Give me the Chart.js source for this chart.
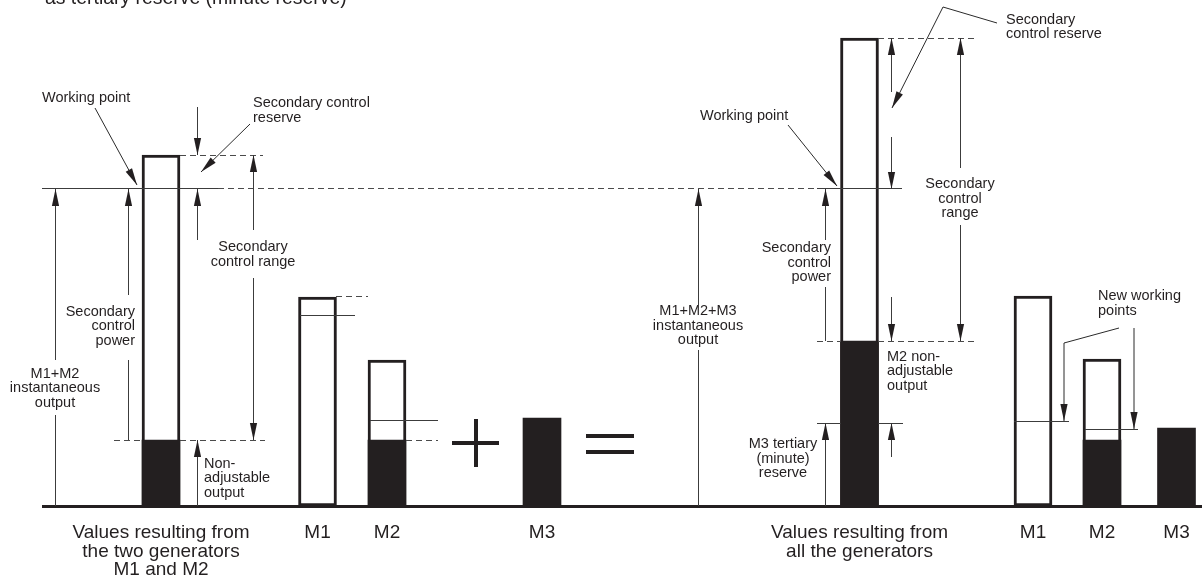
<!DOCTYPE html>
<html>
<head>
<meta charset="utf-8">
<script src="https://cdn.jsdelivr.net/npm/chart.js@4.4.1/dist/chart.umd.min.js"></script>
<style>
html,body{margin:0;padding:0;background:#ffffff;}
#wrap{width:1202px;height:581px;position:relative;}
</style>
</head>
<body>
<div id="wrap"><canvas id="c"></canvas></div>
<script>
// ---------------- data (output units) ----------------
const categories = [
  'Values resulting from\nthe two generators\nM1 and M2',
  'M1', 'M2', 'M3',
  'Values resulting from\nall the generators',
  'M1', 'M2', 'M3'
];
const controlRangeTop     = [351, 209, 146, null, 468, 210, 147, null]; // outlined (adjustable) capacity
const nonAdjustableOutput = [66, null, 66, 88, 165, null, 66, 78];      // black filled part
const workingPoints       = [317, 191, 86, null, 317, 85, 77, null];    // working point levels
const tertiaryReserve     = 83;                                          // M3 tertiary (minute) reserve
const titleText = 'as tertiary reserve (minute reserve)';

// ---------------- layout ----------------
const barCenters = [161, 317.5, 387, 542, 859.5, 1033, 1102, 1176.5]; // x-axis positions of categories
const INK = '#231f20';
const THIN = '#3c3c3c';
const FONT = '"Liberation Sans", Arial, Helvetica, sans-serif';

const outlineData = barCenters.map((x, i) => controlRangeTop[i] == null ? null : {x, y: [0, controlRangeTop[i]]}).filter(Boolean);
const filledData  = barCenters.map((x, i) => nonAdjustableOutput[i] == null ? null : {x, y: [0, nonAdjustableOutput[i]]}).filter(Boolean);

const wpL = workingPoints[0], topL = controlRangeTop[0], naL = nonAdjustableOutput[0];
const topR = controlRangeTop[4], naR = nonAdjustableOutput[4];

// horizontal reference lines [y, x1, x2, style]
const hLines = [
  [0, 42, 1202, 'base'],
  [wpL, 42, 218, 'solid'], [wpL, 218, 817, 'dash'], [wpL, 817, 902, 'solid'],
  [naL, 114, 142, 'dash'], [naL, 180, 265, 'dash'],
  [topL, 180, 263, 'dash'],
  [controlRangeTop[1], 336, 368, 'dash'],
  [workingPoints[1], 300, 355, 'solid'],
  [workingPoints[2], 370, 438, 'solid'],
  [nonAdjustableOutput[2], 406, 438, 'dash'],
  [naR, 817, 841, 'dash'], [naR, 878, 976, 'dash'],
  [topR, 878, 976, 'dash'],
  [tertiaryReserve, 817, 841, 'solid'], [tertiaryReserve, 878, 903, 'solid'],
  [workingPoints[5], 1014, 1069, 'solid'],
  [workingPoints[6], 1085, 1138, 'solid']
];
// vertical dimension arrows [x, yFrom, yTo, headAtEnd]
const vArrows = [
  [55, 0, 91, false], [55, 146, wpL, true],
  [128, naL, 146, false], [128, 211, wpL, true],
  [197, 399, topL, true], [197, 266, wpL, true], [197, 0, naL, true],
  [253, 276, topL, true], [253, 228, naL, true],
  [698, 0, 156, false], [698, 201, wpL, true],
  [826, naR, 219, false], [826, 266, wpL, true], [826, 0, tertiaryReserve, true],
  [891, 414, topR, true], [891, 369, wpL, true], [891, 209, naR, true], [891, 49, tertiaryReserve, true],
  [960, 338, topR, true], [960, 281, naR, true]
];
// leader lines with arrow at the end
const leaders = [
  [[95, 398], [137, 321]],
  [[250, 382], [201, 334]],
  [[788, 381], [837, 320]],
  [[997, 483], [943, 499], [892, 398]],
  [[1119, 178], [1064, 163], [1064, workingPoints[5]]],
  [[1134, 178], [1134, workingPoints[6]]]
];
// thick operator strokes (+ and =)
const operators = [
  [[452, 63], [499, 63]], [[476, 87], [476, 39]],
  [[586, 70], [634, 70]], [[586, 54], [634, 54]]
];
// text notes [text, x, yCenter, align]
const notes = [
  ['Working point', 42, 408, 'left'],
  ['Secondary control\nreserve', 253, 395.5, 'left'],
  ['Secondary\ncontrol range', 253, 251.5, 'center'],
  ['Secondary\ncontrol\npower', 135, 180, 'right'],
  ['M1+M2\ninstantaneous\noutput', 55, 118, 'center'],
  ['Non-\nadjustable\noutput', 204, 28, 'left'],
  ['M1+M2+M3\ninstantaneous\noutput', 698, 180.5, 'center'],
  ['Working point', 700, 390, 'left'],
  ['Secondary\ncontrol reserve', 1006, 479, 'left'],
  ['Secondary\ncontrol\nrange', 960, 307.5, 'center'],
  ['Secondary\ncontrol\npower', 831, 243.5, 'right'],
  ['M2 non-\nadjustable\noutput', 887, 135, 'left'],
  ['M3 tertiary\n(minute)\nreserve', 783, 47.5, 'center'],
  ['New working\npoints', 1098, 202.5, 'left']
];

const diagramPlugin = {
  id: 'diagram',
  afterDatasetsDraw(chart) {
    const ctx = chart.ctx, xs = chart.scales.x, ys = chart.scales.y;
    const X = v => xs.getPixelForValue(v), Y = v => ys.getPixelForValue(v);
    const c1 = p => Math.floor(p) + 0.5;
    ctx.save();
    ctx.lineCap = 'butt';

    // horizontal lines
    hLines.forEach(([y, x1, x2, st]) => {
      ctx.beginPath();
      if (st === 'base') {
        ctx.strokeStyle = INK; ctx.lineWidth = 3; ctx.setLineDash([]);
        ctx.moveTo(X(x1), Y(y) + 0.5); ctx.lineTo(X(x2), Y(y) + 0.5);
      } else {
        ctx.strokeStyle = st === 'dash' ? '#4a4a4a' : THIN; ctx.lineWidth = 1;
        ctx.setLineDash(st === 'dash' ? [6, 4] : []);
        ctx.moveTo(X(x1), c1(Y(y))); ctx.lineTo(X(x2), c1(Y(y)));
      }
      ctx.stroke();
    });
    ctx.setLineDash([]);

    const head = (xa, ya, xb, yb) => {
      const ang = Math.atan2(yb - ya, xb - xa), len = 17, hw = 3.6;
      const bx = xb - Math.cos(ang) * len, by = yb - Math.sin(ang) * len;
      const nx = -Math.sin(ang) * hw, ny = Math.cos(ang) * hw;
      ctx.beginPath();
      ctx.moveTo(xb, yb); ctx.lineTo(bx + nx, by + ny); ctx.lineTo(bx - nx, by - ny);
      ctx.closePath(); ctx.fillStyle = INK; ctx.fill();
    };

    // vertical arrows
    ctx.strokeStyle = THIN; ctx.lineWidth = 1;
    vArrows.forEach(([x, y1, y2, h]) => {
      const px = c1(X(x));
      ctx.beginPath(); ctx.moveTo(px, Y(y1)); ctx.lineTo(px, Y(y2)); ctx.stroke();
      if (h) head(px, Y(y1), px, Y(y2));
    });

    // leaders
    leaders.forEach(pts => {
      ctx.beginPath();
      pts.forEach(([x, y], i) => { const px = X(x), py = Y(y); i ? ctx.lineTo(px, py) : ctx.moveTo(px, py); });
      ctx.strokeStyle = '#2a2a2a'; ctx.lineWidth = 1; ctx.stroke();
      const a = pts[pts.length - 2], b = pts[pts.length - 1];
      head(X(a[0]), Y(a[1]), X(b[0]), Y(b[1]));
    });

    // + and =
    ctx.strokeStyle = INK; ctx.lineWidth = 4;
    operators.forEach(([a, b]) => {
      ctx.beginPath(); ctx.moveTo(X(a[0]), Y(a[1])); ctx.lineTo(X(b[0]), Y(b[1])); ctx.stroke();
    });

    // notes
    ctx.fillStyle = INK;
    ctx.font = '14.5px ' + FONT;
    ctx.textBaseline = 'middle';
    const lh = 14.5;
    notes.forEach(([t, x, yc, al]) => {
      const lines = t.split('\n');
      ctx.textAlign = al;
      lines.forEach((ln, i) => ctx.fillText(ln, X(x), Y(yc) + (i - (lines.length - 1) / 2) * lh));
    });

    // cut-off heading line at top
    ctx.font = '19.4px ' + FONT;
    ctx.textAlign = 'left'; ctx.textBaseline = 'alphabetic';
    ctx.fillText(titleText, X(45), Y(502));
    ctx.restore();
  }
};

new Chart(document.getElementById('c'), {
  type: 'bar',
  data: {
    datasets: [
      {
        label: 'Non-adjustable output',
        data: filledData,
        backgroundColor: INK,
        borderWidth: 0,
        barThickness: 38,
        grouped: false,
        order: 0
      },
      {
        label: 'Adjustable range',
        data: outlineData,
        backgroundColor: '#ffffff',
        borderColor: INK,
        borderWidth: 3,
        borderSkipped: false,
        barThickness: 38,
        grouped: false,
        order: 1
      }
    ]
  },
  options: {
    responsive: true,
    maintainAspectRatio: false,
    animation: false,
    layout: { padding: 0 },
    plugins: { legend: { display: false }, tooltip: { enabled: false } },
    scales: {
      x: {
        type: 'linear',
        min: 0, max: 1202,
        offset: false,
        grid: { display: false, drawTicks: false },
        border: { display: false },
        afterFit: s => { s.height = 75; s.paddingLeft = 0; s.paddingRight = 0; },
        afterBuildTicks: s => { s.ticks = barCenters.map(v => ({ value: v })); },
        ticks: {
          autoSkip: false,
          maxRotation: 0,
          padding: 17.5,
          color: INK,
          font: { family: FONT, size: 19, lineHeight: 0.98 },
          callback: (v, i) => categories[i].split('\n')
        }
      },
      y: {
        display: false,
        min: 0, max: 506
      }
    }
  },
  plugins: [diagramPlugin]
});
</script>
</body>
</html>
